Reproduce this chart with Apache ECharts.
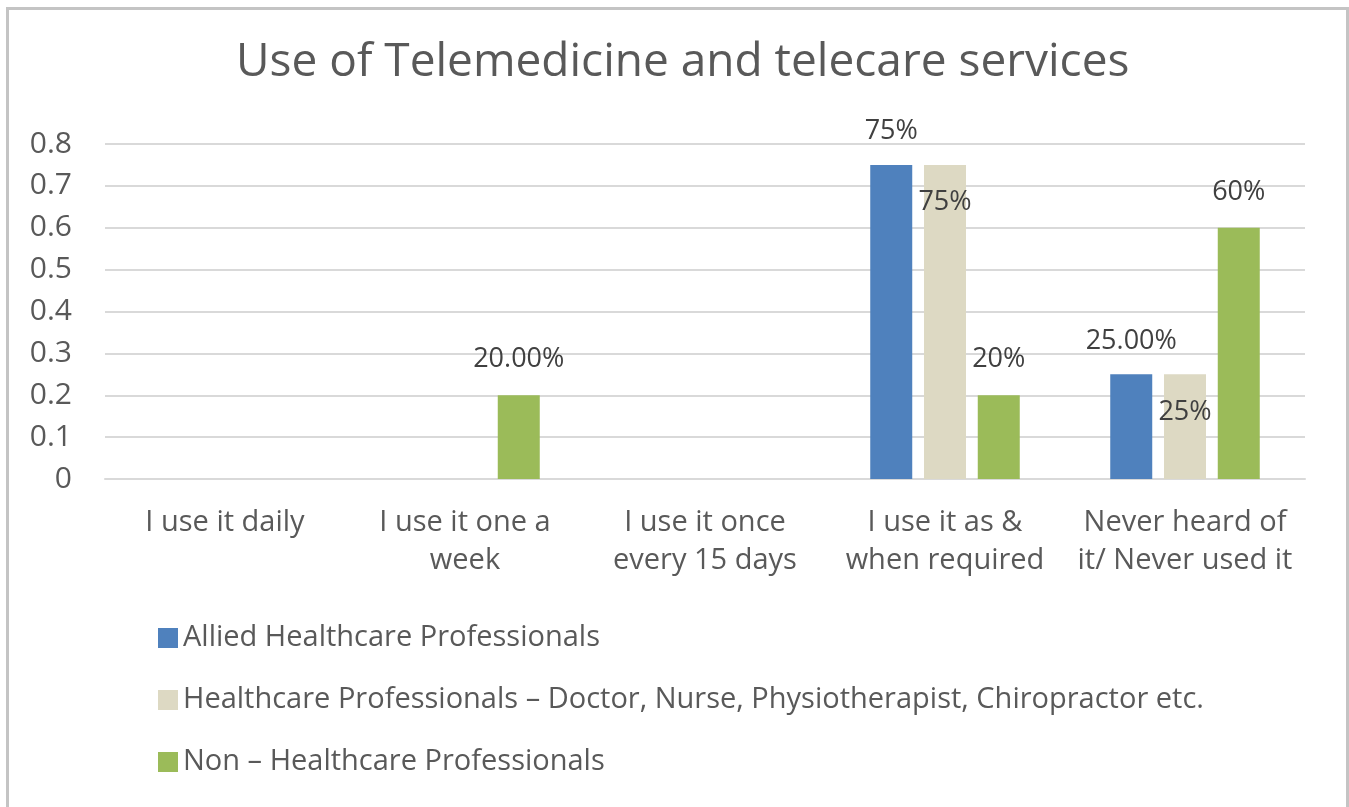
<!DOCTYPE html>
<html>
<head>
<meta charset="utf-8">
<script src="https://cdn.jsdelivr.net/npm/echarts@6/dist/echarts.min.js"></script>
<style>
  html, body { margin: 0; padding: 0; background: #ffffff; }
  #chart { width: 1349px; height: 807px; }
</style>
</head>
<body>
<div id="chart"></div>
<script>
// Survey responses: how often each group uses telemedicine / telecare services
const categories = [
  'I use it daily',
  'I use it one a\nweek',
  'I use it once\nevery 15 days',
  'I use it as &\nwhen required',
  'Never heard of\nit/ Never used it'
];
const seriesNames = [
  'Allied Healthcare Professionals',
  'Healthcare Professionals \u2013 Doctor, Nurse, Physiotherapist, Chiropractor etc.',
  'Non \u2013 Healthcare Professionals'
];
const alliedValues = [0, 0, 0, 0.75, 0.25];
const healthcareValues = [0, 0, 0, 0.75, 0.25];
const nonHealthcareValues = [0, 0.2, 0, 0.2, 0.6];

// Data label texts as printed on the bars
const alliedLabels = ['', '', '', '75%', '25.00%'];
const healthcareLabels = ['', '', '', '75%', '25%'];
const nonHealthcareLabels = ['', '20.00%', '', '20%', '60%'];

const yTicks = [0, 0.1, 0.2, 0.3, 0.4, 0.5, 0.6, 0.7, 0.8];

const FONT = '"Open Sans", "Noto Sans", sans-serif';
const TEXT = '#595959';

function makeSeries(name, values, labels, color, position, distance) {
  return {
    name: name,
    type: 'bar',
    data: values,
    barWidth: 42,
    barGap: '28%',
    itemStyle: { color: color },
    label: {
      show: true,
      position: position,
      distance: distance,
      fontFamily: FONT,
      fontSize: 27,
      color: '#404040',
      formatter: function (p) { return labels[p.dataIndex]; }
    },
    emphasis: { disabled: true }
  };
}

const chart = echarts.init(document.getElementById('chart'), null, { renderer: 'canvas' });
chart.setOption({
  animation: false,
  backgroundColor: '#ffffff',
  title: {
    text: 'Use of Telemedicine and telecare services',
    left: 236,
    top: 40,
    padding: 0,
    textStyle: { fontFamily: FONT, fontSize: 46, fontWeight: 'normal', color: TEXT }
  },
  graphic: [{
    type: 'rect',
    left: 5, top: 6,
    shape: { width: 1340, height: 820 },
    style: { fill: 'none', stroke: '#c4c4c4', lineWidth: 3 },
    silent: true
  }],
  legend: {
    orient: 'vertical',
    left: 153,
    top: 618,
    itemWidth: 20,
    itemHeight: 20,
    itemGap: 32,
    icon: 'rect',
    textStyle: { fontFamily: FONT, fontSize: 29, color: TEXT, lineHeight: 30 },
    data: seriesNames
  },
  grid: { left: 105, right: 44, top: 144, bottom: 328, containLabel: false },
  xAxis: {
    type: 'category',
    data: categories,
    axisLine: { show: true, lineStyle: { color: '#d9d9d9', width: 2 } },
    axisTick: { show: false },
    axisLabel: {
      fontFamily: FONT, fontSize: 29, color: TEXT, lineHeight: 38,
      margin: 25, interval: 0
    }
  },
  yAxis: {
    type: 'value',
    min: 0,
    max: 0.8,
    interval: 0.1,
    axisLine: { show: false },
    axisTick: { show: false },
    splitLine: { lineStyle: { color: '#d9d9d9', width: 2 } },
    axisLabel: {
      fontFamily: FONT, fontSize: 30, color: TEXT, margin: 33,
      formatter: function (v) {
        const t = yTicks.find(function (k) { return Math.abs(k - v) < 1e-9; });
        return t === 0 ? '0' : String(t);
      }
    }
  },
  series: [
    makeSeries(seriesNames[0], alliedValues, alliedLabels, '#4f81bd', 'top', 20),
    makeSeries(seriesNames[1], healthcareValues, healthcareLabels, '#ddd9c3', 'insideTop', 24),
    makeSeries(seriesNames[2], nonHealthcareValues, nonHealthcareLabels, '#9bbb59', 'top', 22)
  ]
});
</script>
</body>
</html>
